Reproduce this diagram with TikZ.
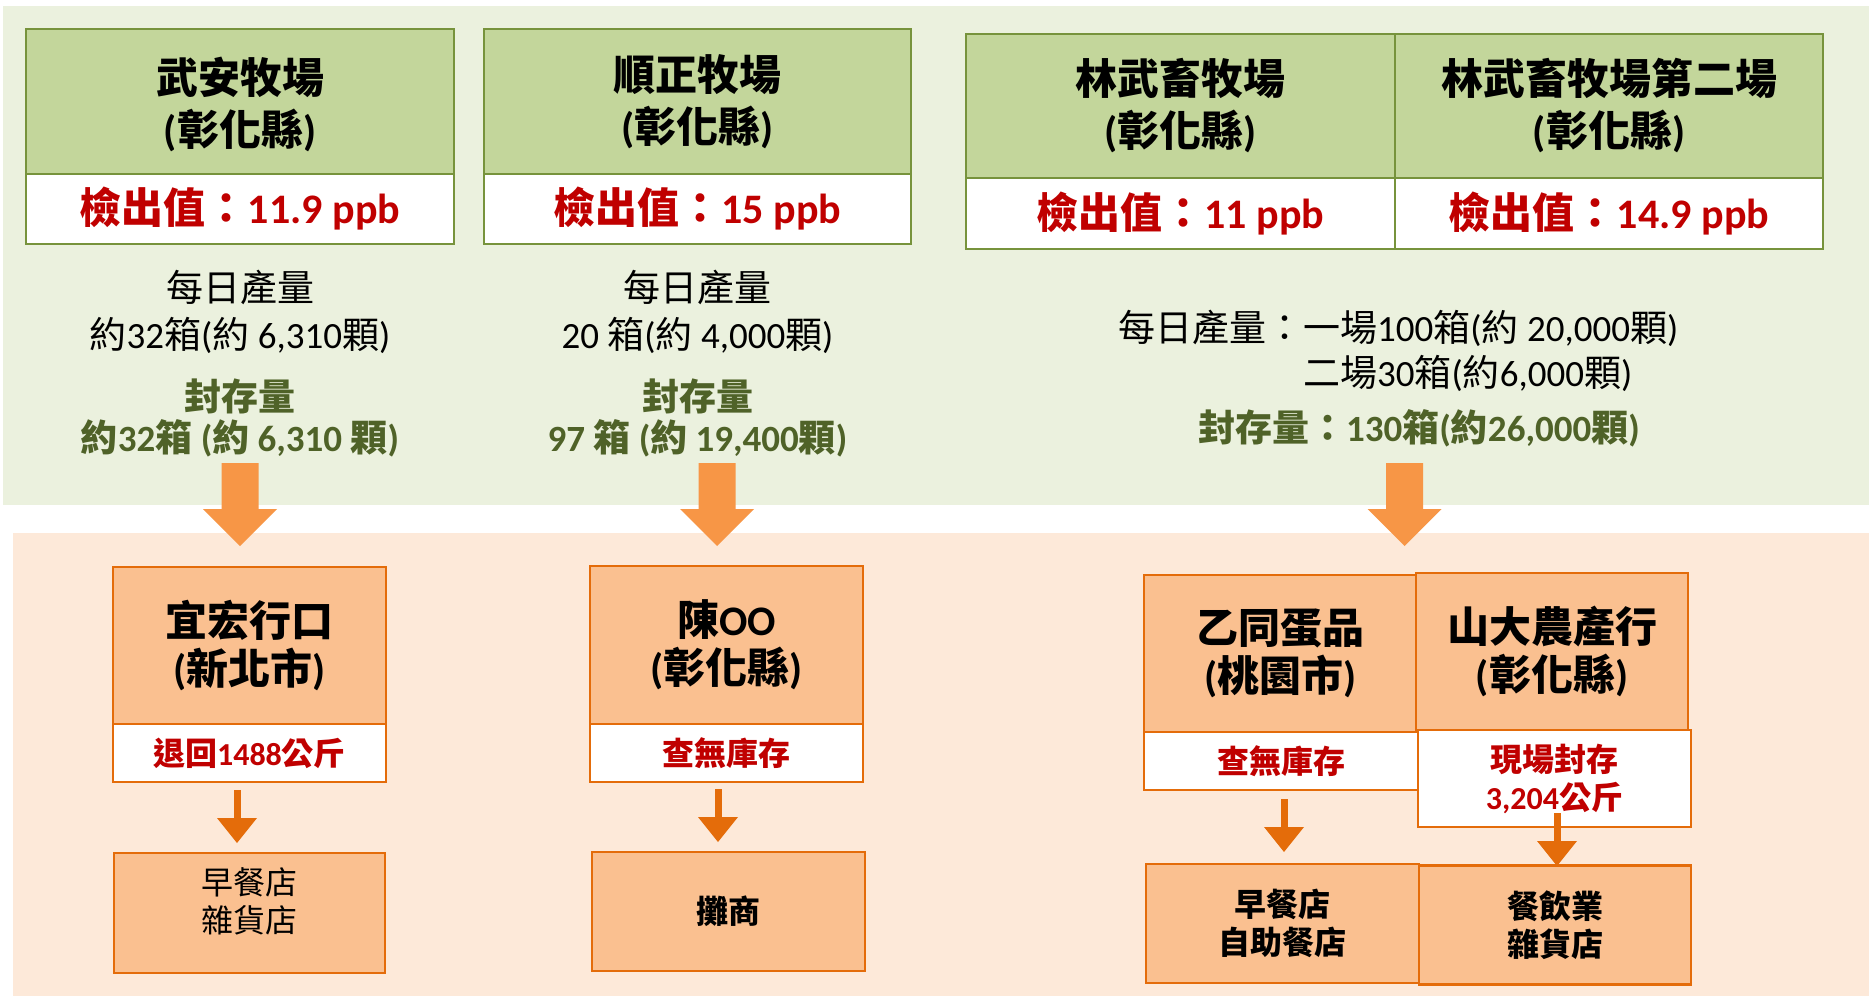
\documentclass[tikz,border=0pt]{standalone}
\usepackage{fontspec}
\setmainfont{Carlito}
\newfontfamily\cjk{Noto Sans CJK TC}
\newcommand\C[1]{{\cjk #1}}
\definecolor{gbg}{HTML}{EBF1DE}
\definecolor{ghead}{HTML}{C3D69B}
\definecolor{gline}{HTML}{77933C}
\definecolor{obg}{HTML}{FDE9D9}
\definecolor{ofill}{HTML}{FAC090}
\definecolor{oline}{HTML}{E46C0A}
\definecolor{bigarr}{HTML}{F79646}
\definecolor{smarr}{HTML}{E46C0A}
\definecolor{redtxt}{HTML}{C00000}
\definecolor{gtxt}{HTML}{4F6228}
\begin{document}
\begin{tikzpicture}[x=1pt,y=-1pt,
  ghdr/.style={draw=gline, line width=2pt, fill=ghead, inner sep=0pt, align=center,
    minimum height=145pt, font=\bfseries\fontsize{42}{52}\selectfont},
  gval/.style={draw=gline, line width=2pt, fill=white, inner sep=0pt, text=redtxt,
    minimum height=70pt, font=\bfseries\fontsize{42}{50}\selectfont},
  prod/.style={inner sep=0pt, align=center, font=\fontsize{37}{47}\selectfont},
  stor/.style={inner sep=0pt, align=center, text=gtxt, font=\bfseries\fontsize{37}{41}\selectfont},
  ohdr/.style={draw=oline, line width=2.5pt, fill=ofill, inner sep=0pt, align=center,
    minimum height=157pt, minimum width=273pt, font=\bfseries\fontsize{42}{48}\selectfont},
  oval/.style={draw=oline, line width=2.5pt, fill=white, inner sep=0pt, align=center, text=redtxt,
    minimum width=273pt, font=\bfseries\fontsize{32}{38}\selectfont},
  obot/.style={draw=oline, line width=2.5pt, fill=ofill, inner sep=0pt, align=center,
    minimum width=273pt, minimum height=119pt, font=\fontsize{32}{38}\selectfont},
  bigarrow/.pic={\fill[bigarr] (-18.5,0) -- (18.5,0) -- (18.5,46) -- (37,46) -- (0,83)
    -- (-37,46) -- (-18.5,46) -- cycle;},
  smallarrow/.pic={\fill[smarr] (-3.5,0) rectangle (3.5,29);
    \fill[smarr] (-20,28) -- (20,28) -- (0,53) -- cycle;}
]
\useasboundingbox (0,0) rectangle (1869,996);
\fill[white] (0,0) rectangle (1869,996);
\fill[gbg] (3,6) rectangle (1869,505);
\fill[obg] (13,533) rectangle (1869,996);

% farms
\node[ghdr, minimum width=428pt, text depth=-2pt] (f1) at (240,101.5) {\C{武安牧場}\\(\C{彰化縣})};
\node[gval, minimum width=428pt] (v1) at (240,209) {\C{檢出值：}11.9 ppb};
\node[ghdr, minimum width=427pt] (f2) at (697.5,101.5) {\C{順正牧場}\\(\C{彰化縣})};
\node[gval, minimum width=427pt] (v2) at (697.5,209) {\C{檢出值：}15 ppb};
\node[ghdr, minimum width=429pt, minimum height=144pt] (f3) at (1180.5,106) {\C{林武畜牧場}\\(\C{彰化縣})};
\node[gval, minimum width=429pt, minimum height=71pt] (v3) at (1180.5,213.5) {\C{檢出值：}11 ppb};
\node[ghdr, minimum width=428pt, minimum height=144pt] (f4) at (1609,106) {\C{林武畜牧場第二場}\\(\C{彰化縣})};
\node[gval, minimum width=428pt, minimum height=71pt] (v4) at (1609,213.5) {\C{檢出值：}14.9 ppb};

% quantities
\node[prod] (p1) at (240,311.5) {\C{每日產量}\\\C{約}32\C{箱}(\C{約} 6,310\C{顆})};
\node[stor] (s1) at (240,417.5) {\C{封存量}\\\C{約}32\C{箱} (\C{約} 6,310 \C{顆})};
\node[prod] (p2) at (697.5,311.5) {\C{每日產量}\\20 \C{箱}(\C{約} 4,000\C{顆})};
\node[stor] (s2) at (697.5,417.5) {\C{封存量}\\97 \C{箱} (\C{約} 19,400\C{顆})};
\node[prod, align=left, anchor=west, font=\fontsize{37}{45}\selectfont] (p3) at (1118,350.5)
  {\C{每日產量：一場}100\C{箱}(\C{約} 20,000\C{顆})\\\hphantom{\C{每日產量：}}\C{二場}30\C{箱}(\C{約}6,000\C{顆})};
\node[stor] (s3) at (1419,428) {\C{封存量：}130\C{箱}(\C{約}26,000\C{顆})};

% big arrows
\coordinate (a1) at (240,463);
\coordinate (a2) at (717,463);
\coordinate (a3) at (1404.5,463);
\pic at (a1) {bigarrow};
\pic at (a2) {bigarrow};
\pic at (a3) {bigarrow};

% dealers
\node[ohdr] (d1) at (249.5,645.5) {\C{宜宏行口}\\(\C{新北市})};
\node[oval, minimum height=58pt] (w1) at (249.5,753) {\C{退回}1488\C{公斤}};
\node[obot, minimum width=271pt, minimum height=120pt,
  label={[name=t1, align=center, font=\fontsize{32}{38}\selectfont, yshift=12pt]center:\C{早餐店}\\\C{雜貨店}}]
  (b1) at (249.5,913) {};

\node[ohdr, minimum height=158pt] (d2) at (726.5,645) {\C{陳}OO\\(\C{彰化縣})};
\node[oval, minimum height=58pt] (w2) at (726.5,753) {\C{查無庫存}};
\node[obot, font=\bfseries\fontsize{32}{38}\selectfont] (b2) at (728.5,911.5) {\C{攤商}};

\node[ohdr] (d3) at (1280.5,653.5) {\C{乙同蛋品}\\(\C{桃園市})};
\node[oval, minimum width=275pt, minimum height=58pt] (w3) at (1281.5,761) {\C{查無庫存}};
\node[obot, font=\bfseries\fontsize{32}{38}\selectfont] (b3) at (1282.5,923.5) {\C{早餐店}\\\C{自助餐店}};

\node[ohdr, minimum width=272pt] (d4) at (1552,651.5) {\C{山大農產行}\\(\C{彰化縣})};
\node[oval, minimum width=273pt, minimum height=97pt] (w4) at (1554.5,778.5) {\C{現場封存}\\3,204\C{公斤}};
\node[obot, minimum width=272pt, font=\bfseries\fontsize{32}{38}\selectfont] (b4) at (1555,925) {\C{餐飲業}\\\C{雜貨店}};

% small arrows
\coordinate (c1) at (237,790);
\coordinate (c2) at (718,789);
\coordinate (c3) at (1284,799);
\coordinate (c4) at (1557,813);
\pic at (c1) {smallarrow};
\pic at (c2) {smallarrow};
\pic at (c3) {smallarrow};
\pic at (c4) {smallarrow};
\end{tikzpicture}
\end{document}
